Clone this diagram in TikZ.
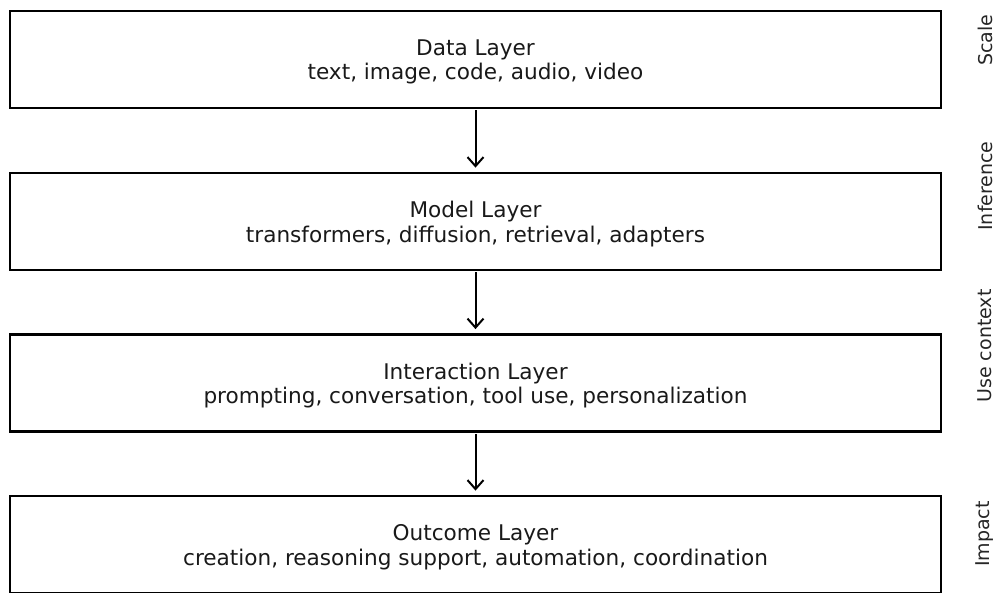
\documentclass[tikz,border=0pt]{standalone}
\usepackage{fontspec}
\setmainfont{DejaVu Sans}
\usetikzlibrary{arrows.meta}
\begin{document}
\begin{tikzpicture}[x=1pt,y=-1pt,
  layer/.style={draw=black,line width=2.8pt,minimum width=931pt,minimum height=97pt,inner sep=0pt},
  ltext/.style={align=center,inner sep=0pt,font=\fontsize{21.6}{24.5}\selectfont,text=black!90},
  flow/.style={line width=2pt,shorten <=1pt,shorten >=4pt,-{Straight Barb[length=9pt,width=16pt,line width=2pt]}},
  side/.style={rotate=90,font=\fontsize{19}{22}\selectfont,text=black!85,inner sep=0pt}]
\useasboundingbox (0,0) rectangle (998,592);
\node[layer] (data) at (475.5,59.5) {};
\node[layer] (model) at (475.5,221.5) {};
\node[layer] (inter) at (475.5,383) {};
\node[layer] (out) at (475.5,544.5) {};
\node[ltext] (datat) at (475.5,62) {Data Layer\\text, image, code, audio, video};
\node[ltext] (modelt) at (475.5,224) {Model Layer\\transformers, diffusion, retrieval, adapters};
\node[ltext] (intert) at (475.5,385.5) {Interaction Layer\\prompting, conversation, tool use, personalization};
\node[ltext] (outt) at (475.5,547) {Outcome Layer\\creation, reasoning support, automation, coordination};
\draw[flow] (data.south) -- (model.north);
\draw[flow] (model.south) -- (inter.north);
\draw[flow] (inter.south) -- (out.north);
\node[side] (s1) at (985,40) {Scale};
\node[side] (s2) at (985,186) {Inference};
\node[side] (s3) at (985,346) {Use context};
\node[side] (s4) at (985,534) {Impact};
\end{tikzpicture}
\end{document}
